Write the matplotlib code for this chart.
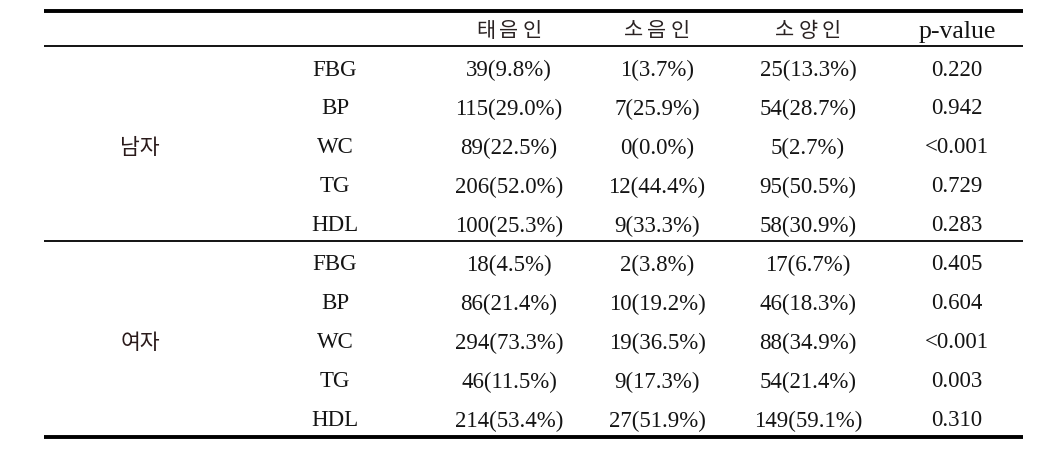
import matplotlib
matplotlib.use('Agg')
import matplotlib.pyplot as plt

# 표 데이터
columns = ['태음인', '소음인', '소양인', 'p-value']
groups = ['남자', '여자']
metrics = ['FBG', 'BP', 'WC', 'TG', 'HDL']

male_taeeum = ['39(9.8%)', '115(29.0%)', '89(22.5%)', '206(52.0%)', '100(25.3%)']
male_soeum = ['1(3.7%)', '7(25.9%)', '0(0.0%)', '12(44.4%)', '9(33.3%)']
male_soyang = ['25(13.3%)', '54(28.7%)', '5(2.7%)', '95(50.5%)', '58(30.9%)']
male_p = ['0.220', '0.942', '<0.001', '0.729', '0.283']

female_taeeum = ['18(4.5%)', '86(21.4%)', '294(73.3%)', '46(11.5%)', '214(53.4%)']
female_soeum = ['2(3.8%)', '10(19.2%)', '19(36.5%)', '9(17.3%)', '27(51.9%)']
female_soyang = ['17(6.7%)', '46(18.3%)', '88(34.9%)', '54(21.4%)', '149(59.1%)']
female_p = ['0.405', '0.604', '<0.001', '0.003', '0.310']

group_rows = [
    [male_taeeum, male_soeum, male_soyang, male_p],
    [female_taeeum, female_soeum, female_soyang, female_p],
]

# 레이아웃 (픽셀 단위)
W, H = 1062, 452
x_left, x_right = 44, 1023
x_group = 140
x_metric = 335
x_cols = [509, 657, 808, 957]
y_header = 31
y_first = 70
row_h = 39.0

serif = ['Liberation Serif', 'DejaVu Serif']
kor = ['Noto Sans CJK KR', 'DejaVu Sans']
fs = 16.5
txt_color = '#141414'

fig = plt.figure(figsize=(W / 100, H / 100), dpi=100)
ax = fig.add_axes([0, 0, 1, 1])
ax.set_xlim(0, W)
ax.set_ylim(H, 0)
ax.axis('off')

# 가로선
ax.plot([x_left, x_right], [12, 12], color='black', lw=2.8, solid_capstyle='butt')
ax.plot([x_left, x_right], [47, 47], color='black', lw=1.3, solid_capstyle='butt')
ax.plot([x_left, x_right], [242, 242], color='black', lw=1.3, solid_capstyle='butt')
ax.plot([x_left, x_right], [438, 438], color='black', lw=2.8, solid_capstyle='butt')

# 헤더 (한글은 글자 간격을 띄워서)
for x, c in zip(x_cols, columns):
    if c == 'p-value':
        ax.text(x, y_header + 1, c, ha='center', va='center', fontsize=18.5,
                family=serif, color=txt_color)
    else:
        n = len(c)
        for k, ch in enumerate(c):
            ax.text(x + (k - (n - 1) / 2) * 23, y_header, ch, ha='center', va='center',
                    fontsize=15, family=kor, color='#2a2222', weight='light')

# 본문
for gi, g in enumerate(groups):
    y0 = y_first + gi * len(metrics) * row_h
    ax.text(x_group, y0 + 2 * row_h, g, ha='center', va='center', fontsize=15.5,
            family=kor, color='#2a1a1a', weight='light')
    for ri, m in enumerate(metrics):
        y = y0 + ri * row_h
        ax.text(x_metric, y, m, ha='center', va='center', fontsize=fs,
                family=serif, color=txt_color)
        for ci, col in enumerate(group_rows[gi]):
            ax.text(x_cols[ci], y, col[ri], ha='center', va='center', fontsize=fs,
                    family=serif, color=txt_color)

fig.savefig('out.png', dpi=100)
